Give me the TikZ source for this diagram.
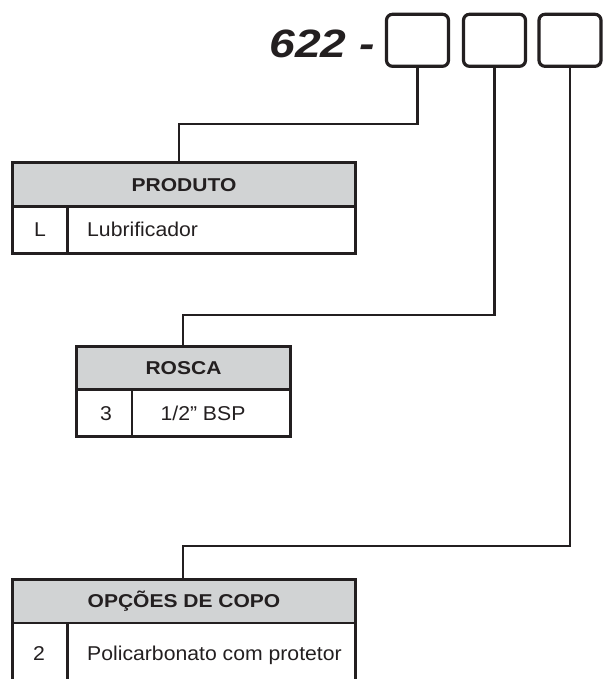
\documentclass[tikz,border=0pt]{standalone}
\usepackage{fontspec}
\setmainfont{Liberation Sans}
\newfontfamily\headfont{Liberation Sans}[FakeStretch=1.13]
\newfontfamily\rowfont{Liberation Sans}[FakeStretch=1.06]
\newfontfamily\titlefont{Liberation Sans}[FakeStretch=1.17]
\definecolor{ink}{HTML}{231F20}
\definecolor{headgray}{HTML}{D1D3D4}
\begin{document}
\begin{tikzpicture}[x=1pt,y=-1pt,
  codebox/.style={draw=ink, line width=3.2pt, rounded corners=6pt, minimum width=62pt, minimum height=52pt, inner sep=0pt},
  conn/.style={draw=ink, line width=2.2pt},
  cell/.style={draw=ink, line width=2.8pt, inner sep=0pt},
  head/.style={cell, fill=headgray, text=ink, font=\headfont\fontsize{18.6}{20}\selectfont\bfseries, text height=13.3pt, text depth=0pt},
  lbl/.style={font=\rowfont\fontsize{20}{22}\selectfont, text=ink, inner sep=0pt, text height=14.3pt, text depth=0pt},
  title/.style={font=\titlefont\fontsize{39.5}{40}\selectfont\bfseries\itshape, text=ink, inner sep=0pt}]
\useasboundingbox (0,0) rectangle (603,679);
\clip (0,0) rectangle (603,679);
% title and code boxes
\node[title, anchor=base east] (t) at (375,58) {622 -};
\node[codebox] (b1) at (417.5,40.3) {};
\node[codebox] (b2) at (494.5,40.3) {};
\node[codebox] (b3) at (570,40.3) {};
% table 1
\node[head, minimum width=343pt, minimum height=44pt] (h1) at (184,184.5) {PRODUTO};
\node[cell, minimum width=55pt, minimum height=47pt] (c1a) at (40,230) {};
\node[cell, minimum width=288pt, minimum height=47pt] (c1b) at (211.5,230) {};
\node[lbl] (l1a) at (40,229.5) {L};
\node[lbl, anchor=west] (l1b) at (87,229.5) {Lubrificador};
% table 2
\node[head, minimum width=214pt, minimum height=43pt] (h2) at (183.5,368) {ROSCA};
\node[cell, minimum width=55.5pt, minimum height=47pt] (c2a) at (104.25,413) {};
\node[cell, minimum width=158.5pt, minimum height=47pt] (c2b) at (211.25,413) {};
\node[lbl] (l2a) at (106,413) {3};
\node[lbl] (l2b) at (203,413) {1/2” BSP};
% table 3
\node[head, minimum width=343pt, minimum height=43.5pt] (h3) at (184,601.25) {OPÇÕES DE COPO};
\node[cell, minimum width=55pt, minimum height=97pt] (c3a) at (40,671.5) {};
\node[cell, minimum width=288pt, minimum height=97pt] (c3b) at (211.5,671.5) {};
\node[lbl] (l3a) at (39,653) {2};
\node[lbl, anchor=west] (l3b) at (87,653) {Policarbonato com protetor};
% connectors
\coordinate (k1) at (179,124);
\coordinate (k2) at (183,315);
\coordinate (k3) at (183,546);
\draw[conn] (b1.south) |- (k1) -- (k1 |- h1.north);
\draw[conn] (b2.south) |- (k2) -- (k2 |- h2.north);
\draw[conn] (b3.south) |- (k3) -- (k3 |- h3.north);
\end{tikzpicture}
\end{document}
